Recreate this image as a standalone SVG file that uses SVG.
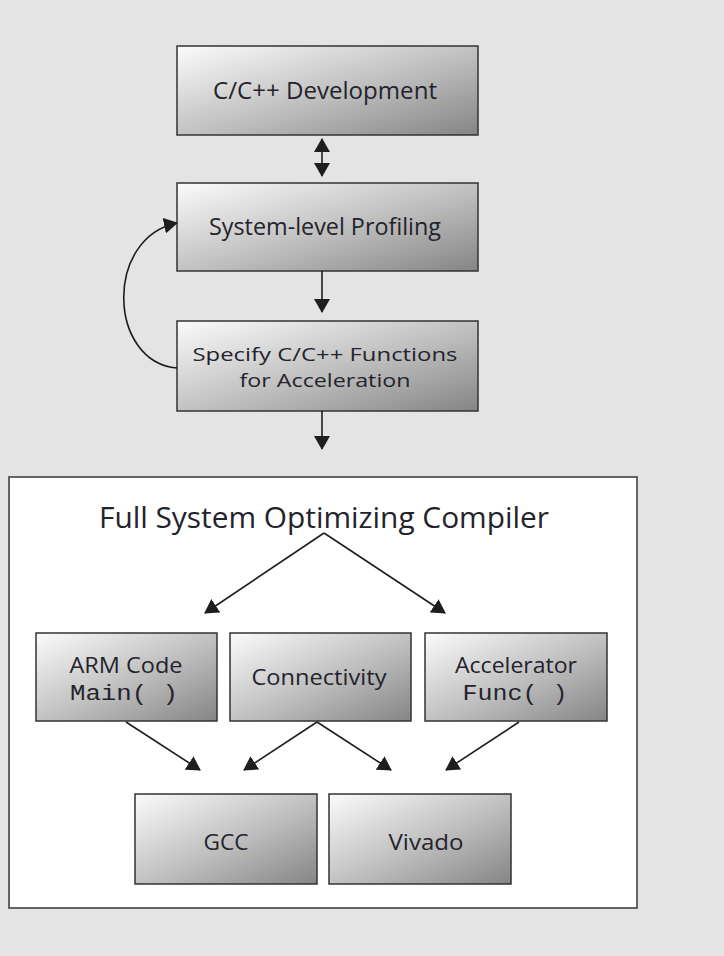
<svg xmlns="http://www.w3.org/2000/svg" width="724" height="956" viewBox="0 0 724 956">
  <defs>
    <linearGradient id="boxGrad" x1="0" y1="0" x2="1" y2="1">
      <stop offset="0" stop-color="#fbfbfb"/>
      <stop offset="0.55" stop-color="#bdbdbd"/>
      <stop offset="1" stop-color="#868585"/>
    </linearGradient>
    <marker id="arrow" viewBox="0 0 14 16" refX="13" refY="8" markerWidth="14" markerHeight="16" markerUnits="userSpaceOnUse" orient="auto-start-reverse">
      <path d="M0,0 L14,8 L0,16 z" fill="#1e1e1e"/>
    </marker>
    <style>
      .box { fill: url(#boxGrad); stroke: #333; stroke-width: 1.5; }
      .lbl { font-family: "Open Sans", "Noto Sans", sans-serif; fill: #24232c; text-anchor: middle; }
      .mono { font-family: "Liberation Mono", "Courier New", monospace; fill: #24232c; text-anchor: middle; }
      .conn { stroke: #1e1e1e; stroke-width: 1.6; fill: none; marker-end: url(#arrow); }
    </style>
  </defs>

  <rect x="0" y="0" width="724" height="956" fill="#e4e4e4"/>

  <g id="compiler-frame">
    <rect x="9" y="477" width="628" height="431" fill="#ffffff" stroke="#555" stroke-width="1.8"/>
    <text class="lbl" x="324" y="528" font-size="29" textLength="450" lengthAdjust="spacingAndGlyphs">Full System Optimizing Compiler</text>
  </g>

  <g id="dev">
    <rect class="box" x="177" y="46" width="301" height="89"/>
    <text class="lbl" x="325" y="99" font-size="23" textLength="224" lengthAdjust="spacingAndGlyphs">C/C++ Development</text>
  </g>

  <g id="profiling">
    <rect class="box" x="177" y="183" width="301" height="88"/>
    <text class="lbl" x="325" y="235" font-size="23" textLength="232" lengthAdjust="spacingAndGlyphs">System-level Profiling</text>
  </g>

  <g id="specify">
    <rect class="box" x="177" y="321" width="301" height="90"/>
    <text class="lbl" x="325" y="361" font-size="19" textLength="265" lengthAdjust="spacingAndGlyphs">Specify C/C++ Functions</text>
    <text class="lbl" x="325" y="387" font-size="19" textLength="171" lengthAdjust="spacingAndGlyphs">for Acceleration</text>
  </g>

  <g id="arm">
    <rect class="box" x="36" y="633" width="181" height="88"/>
    <text class="lbl" x="126" y="673" font-size="22" textLength="113" lengthAdjust="spacingAndGlyphs">ARM Code</text>
    <text class="mono" x="124" y="700" font-size="22" textLength="108" lengthAdjust="spacingAndGlyphs">Main( )</text>
  </g>

  <g id="connectivity">
    <rect class="box" x="230" y="633" width="181" height="88"/>
    <text class="lbl" x="319" y="685" font-size="22" textLength="135" lengthAdjust="spacingAndGlyphs">Connectivity</text>
  </g>

  <g id="accelerator">
    <rect class="box" x="425" y="633" width="182" height="88"/>
    <text class="lbl" x="516" y="673" font-size="22" textLength="122" lengthAdjust="spacingAndGlyphs">Accelerator</text>
    <text class="mono" x="515" y="700" font-size="22" textLength="105" lengthAdjust="spacingAndGlyphs">Func( )</text>
  </g>

  <g id="gcc">
    <rect class="box" x="135" y="794" width="182" height="90"/>
    <text class="lbl" x="226" y="850" font-size="22" textLength="45" lengthAdjust="spacingAndGlyphs">GCC</text>
  </g>

  <g id="vivado">
    <rect class="box" x="329" y="794" width="182" height="90"/>
    <text class="lbl" x="426" y="850" font-size="22" textLength="75" lengthAdjust="spacingAndGlyphs">Vivado</text>
  </g>

  <g id="connectors">
    <line class="conn" x1="322" y1="139" x2="322" y2="176" marker-start="url(#arrow)"/>
    <line class="conn" x1="322" y1="271" x2="322" y2="312"/>
    <line class="conn" x1="322" y1="411" x2="322" y2="449"/>
    <path class="conn" d="M177,368 C108,362 104,238 177,223"/>
    <line class="conn" x1="324" y1="533" x2="205" y2="613"/>
    <line class="conn" x1="324" y1="533" x2="445" y2="613"/>
    <line class="conn" x1="126" y1="722" x2="200" y2="770"/>
    <line class="conn" x1="317" y1="722" x2="244" y2="770"/>
    <line class="conn" x1="317" y1="722" x2="391" y2="770"/>
    <line class="conn" x1="519" y1="722" x2="446" y2="770"/>
  </g>
</svg>
